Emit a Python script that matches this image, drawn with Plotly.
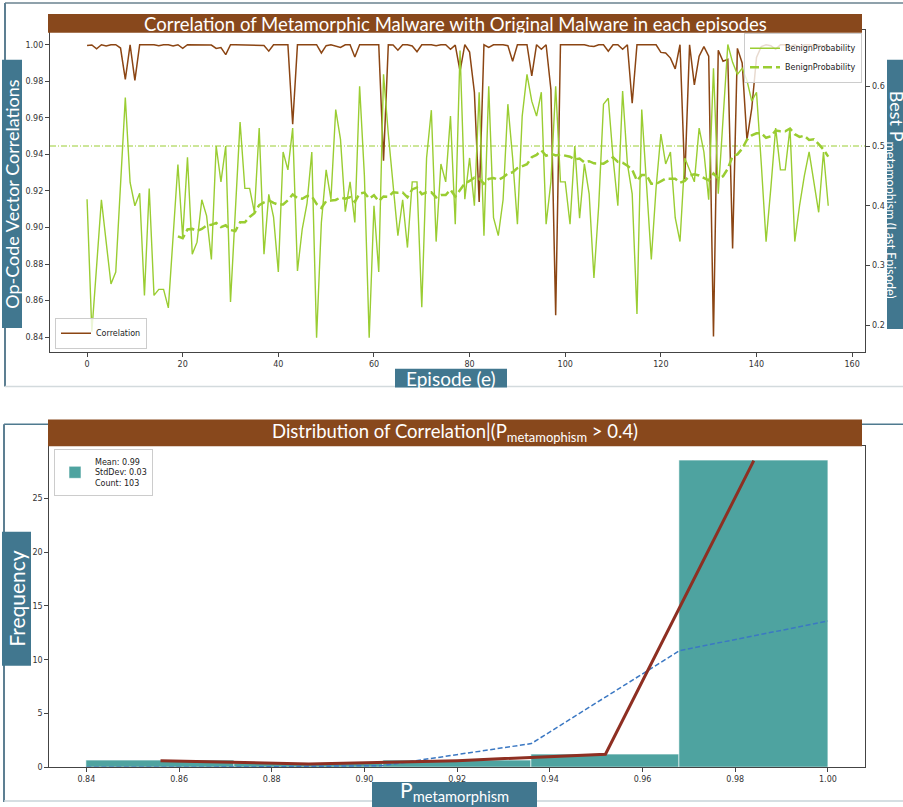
import numpy as np
import pandas as pd
import plotly.graph_objects as go

W, H = 903, 807

# ---------------- data ----------------
EPISODES = list(range(156))

CORRELATION = [
    0.9996, 0.9999, 0.9978, 1.0, 0.9993, 1.0, 1.0, 0.9982, 0.981, 1.0,
    0.9805, 1.0, 1.0, 1.0, 1.0, 0.9995, 1.0, 1.0, 0.9993, 1.0,
    0.998, 1.0, 1.0, 1.0, 1.0, 1.0, 0.9998, 0.998, 0.9985, 0.9946,
    1.0, 1.0, 1.0, 1.0, 1.0, 1.0, 0.9998, 0.9996, 0.9965, 1.0,
    1.0, 1.0, 1.0, 0.9565, 1.0, 1.0, 1.0, 1.0, 1.0, 0.9955,
    0.9995, 1.0, 0.9993, 0.9985, 1.0, 1.0, 0.9933, 1.0, 1.0, 1.0,
    1.0, 1.0, 0.9365, 1.0, 0.9998, 0.997, 1.0, 1.0, 0.9993, 0.9962,
    1.0, 1.0, 1.0, 0.9995, 1.0, 1.0, 0.9975, 0.9998, 0.9855, 1.0,
    0.996, 0.974, 0.914, 1.0, 0.9985, 1.0, 1.0, 1.0, 0.9995, 0.991,
    1.0, 1.0, 1.0, 0.983, 1.0, 0.9975, 1.0, 0.9755, 0.852, 1.0,
    1.0, 1.0, 1.0, 1.0, 1.0, 0.9993, 0.999, 1.0, 1.0, 0.9965,
    1.0, 1.0, 0.9975, 1.0, 0.968, 1.0, 1.0, 1.0, 1.0, 1.0,
    0.9958, 0.9955, 0.9927, 0.9868, 1.0, 0.9265, 1.0, 0.978, 0.9937, 0.999,
    0.9937, 0.8404, 0.997, 0.991, 0.992, 0.8885, 0.998, 0.990, 0.948, 0.965,
    0.993, 0.999, 1.0, 0.9995, 0.9975, 1.0, 1.0, 0.999, 1.0, 0.9985,
    1.0, 1.0, 0.9995, 1.0, 0.999, 1.0,
]

BENIGN_PROB = [
    0.411, 0.189, 0.299, 0.410, 0.339, 0.269, 0.289, 0.433, 0.581, 0.439,
    0.400, 0.421, 0.250, 0.429, 0.250, 0.260, 0.260, 0.229, 0.350, 0.469,
    0.347, 0.481, 0.319, 0.339, 0.410, 0.383, 0.310, 0.500, 0.440, 0.500,
    0.239, 0.389, 0.540, 0.429, 0.429, 0.389, 0.530, 0.319, 0.419, 0.381,
    0.289, 0.490, 0.460, 0.530, 0.291, 0.361, 0.404, 0.490, 0.179, 0.372,
    0.460, 0.411, 0.561, 0.511, 0.390, 0.440, 0.372, 0.600, 0.450, 0.179,
    0.400, 0.289, 0.620, 0.520, 0.440, 0.350, 0.410, 0.330, 0.440, 0.440,
    0.230, 0.480, 0.560, 0.340, 0.470, 0.440, 0.550, 0.369, 0.660, 0.411,
    0.480, 0.400, 0.590, 0.350, 0.600, 0.380, 0.350, 0.410, 0.570, 0.480,
    0.369, 0.550, 0.620, 0.575, 0.550, 0.590, 0.369, 0.440, 0.600, 0.440,
    0.440, 0.369, 0.500, 0.379, 0.470, 0.420, 0.279, 0.400, 0.570, 0.580,
    0.480, 0.400, 0.592, 0.470, 0.420, 0.219, 0.561, 0.440, 0.310, 0.430,
    0.520, 0.470, 0.490, 0.380, 0.340, 0.480, 0.460, 0.440, 0.530, 0.490,
    0.410, 0.630, 0.420, 0.550, 0.670, 0.640, 0.620, 0.630, 0.610, 0.575,
    0.590, 0.470, 0.340, 0.430, 0.530, 0.460, 0.460, 0.530, 0.340, 0.400,
    0.450, 0.490, 0.440, 0.389, 0.490, 0.400,
]

ROLLING_WINDOW = 20
THRESHOLD = 0.5

TOP_X_TICKS = [0, 20, 40, 60, 80, 100, 120, 140, 160]
TOP_Y_TICKS = [0.84, 0.86, 0.88, 0.90, 0.92, 0.94, 0.96, 0.98, 1.00]
TOP_Y2_TICKS = [0.2, 0.3, 0.4, 0.5, 0.6]

BIN_EDGES = [0.84, 0.872, 0.904, 0.936, 0.968, 1.0]
BIN_COUNTS = [2, 1, 2, 4, 94]
NORMAL_FIT = [0.0, 0.01, 0.15, 2.2, 10.85, 13.6]
STATS_LABEL = "Mean: 0.99<br>StdDev: 0.03<br>Count: 103"

BOT_X_TICKS = [0.84, 0.86, 0.88, 0.90, 0.92, 0.94, 0.96, 0.98, 1.00]
BOT_Y_TICKS = [0, 5, 10, 15, 20, 25]

# ---------------- styles ----------------
BROWN = "#8B4513"
BAR_BROWN = "#88481C"
GREEN = "#9ACD32"
TEAL = "#4EA3A0"
RED = "#8E2F22"
BLUE = "#3B78C3"
BOXBLUE = "#41778F"
AXC = "#444444"
TICKFONT = dict(family="DejaVu Sans", size=8, color="#333333")
TITLEFONT = "Lato"


def px(x):
    return x / W


def py(y):
    return 1 - y / H


rolling = pd.Series(BENIGN_PROB).rolling(ROLLING_WINDOW).mean()
rolling = [None if np.isnan(v) else v for v in rolling]

edges = np.array(BIN_EDGES)
counts = np.array(BIN_COUNTS, dtype=float)
widths = np.diff(edges)
centers = (edges[:-1] + edges[1:]) / 2
density = counts / (counts.sum() * widths)

fig = go.Figure()

# top chart
fig.add_trace(go.Scatter(x=EPISODES, y=CORRELATION, mode="lines",
                         line=dict(color=BROWN, width=1.5), name="Correlation",
                         xaxis="x", yaxis="y", legend="legend2"))
fig.add_trace(go.Scatter(x=EPISODES, y=BENIGN_PROB, mode="lines",
                         line=dict(color=GREEN, width=1.4), name="BenignProbability",
                         xaxis="x", yaxis="y2", legend="legend"))
fig.add_trace(go.Scatter(x=EPISODES, y=rolling, mode="lines",
                         line=dict(color=GREEN, width=2.5, dash="9px,4px"),
                         name="BenignProbability", xaxis="x", yaxis="y2",
                         legend="legend"))

# bottom chart
fig.add_trace(go.Bar(x=centers, y=density, width=widths,
                     marker=dict(color=TEAL, line=dict(color="rgba(255,255,255,0.7)", width=0.8)),
                     name=STATS_LABEL, xaxis="x2", yaxis="y3", legend="legend3"))
fig.add_trace(go.Scatter(x=BIN_EDGES, y=NORMAL_FIT, mode="lines",
                         line=dict(color=BLUE, width=1.5, dash="5px,2.5px"),
                         showlegend=False, xaxis="x2", yaxis="y3"))
fig.add_trace(go.Scatter(x=centers, y=density, mode="lines",
                         line=dict(color=RED, width=3),
                         showlegend=False, xaxis="x2", yaxis="y3"))

axis_common = dict(showline=True, linecolor=AXC, linewidth=1.2, mirror=True,
                   ticks="outside", ticklen=4, tickcolor=AXC, tickwidth=1,
                   showgrid=False, zeroline=False, tickfont=TICKFONT)

legend_common = dict(bgcolor="rgba(255,255,255,0.8)", bordercolor="#cccccc",
                     borderwidth=1, font=dict(family="DejaVu Sans", size=8, color="#222222"),
                     itemwidth=30, tracegroupgap=0, orientation="v")

fig.update_layout(
    width=W, height=H, margin=dict(l=0, r=0, t=0, b=0),
    paper_bgcolor="white", plot_bgcolor="white", bargap=0,
    xaxis=dict(domain=[px(50), px(865.3)], anchor="y", range=[-7.75, 162.75],
               tickvals=TOP_X_TICKS, **axis_common),
    yaxis=dict(domain=[py(354), py(30)], anchor="x", range=[0.832, 1.00816],
               tickvals=TOP_Y_TICKS, tickformat=".2f", **axis_common),
    yaxis2=dict(overlaying="y", side="right", anchor="x", range=[0.1555, 0.6945],
                tickvals=TOP_Y2_TICKS, tickformat=".1f", showline=True, linecolor=AXC,
                linewidth=1.2, ticks="outside", ticklen=4, tickcolor=AXC,
                showgrid=False, zeroline=False, tickfont=TICKFONT),
    xaxis2=dict(domain=[px(49.3), px(865)], anchor="y3", range=[0.832, 1.008],
                tickvals=BOT_X_TICKS, tickformat=".2f", **axis_common),
    yaxis3=dict(domain=[py(772), py(448.3)], anchor="x2", range=[0, 29.93],
                tickvals=BOT_Y_TICKS, **axis_common),
    legend=dict(x=px(862), xanchor="right", y=py(33), yanchor="top", **legend_common),
    legend2=dict(x=px(55), xanchor="left", y=py(351), yanchor="bottom", **legend_common),
    legend3=dict(x=px(54), xanchor="left", y=py(452), yanchor="top", **legend_common),
)

shapes = []
# threshold line on the right axis
shapes.append(dict(type="line", xref="x domain", x0=0, x1=1, yref="y2",
                   y0=THRESHOLD, y1=THRESHOLD, layer="below",
                   line=dict(color=GREEN, width=1, dash="6px,2px,1px,2px")))


def rect(x0, y0, x1, y1, color):
    return dict(type="rect", xref="paper", yref="paper", x0=px(x0), x1=px(x1),
                y0=py(y1), y1=py(y0), fillcolor=color, line=dict(width=0), layer="above")


def seg(x0, y0, x1, y1, color, width):
    return dict(type="line", xref="paper", yref="paper", x0=px(x0), x1=px(x1),
                y0=py(y0), y1=py(y1), line=dict(color=color, width=width), layer="above")


# frames
shapes += [
    seg(5, 3, 903, 3, "#8fa1ab", 2),
    seg(5, 3, 5, 389, "#5d7f92", 2),
    seg(5, 389, 903, 389, "#d3dadd", 1.5),
    seg(4, 427, 48, 427, "#4f7a8f", 1.5),
    seg(862, 427, 903, 427, "#4f7a8f", 1.5),
    seg(4, 427, 4, 807, "#5d7f92", 2),
    seg(4, 806, 903, 806, "#c9d3d8", 1.5),
]
# title bars and axis-title boxes
shapes += [
    rect(48, 14, 862, 33, BAR_BROWN),
    rect(48, 422, 862, 449, BAR_BROWN),
    rect(2, 60, 22, 330, BOXBLUE),
    rect(395, 371, 507, 390, BOXBLUE),
    rect(887, 60, 912, 331, BOXBLUE),
    rect(2, 535, 31, 670, BOXBLUE),
    rect(372, 787, 537, 812, BOXBLUE),
]
fig.update_layout(shapes=shapes)


def label(text, cx, cy, size, angle=0):
    return dict(text=text, xref="paper", yref="paper", x=px(cx), y=py(cy),
                xanchor="center", yanchor="middle", showarrow=False, textangle=angle,
                font=dict(family=TITLEFONT, size=size, color="white"))


fig.update_layout(annotations=[
    label("Correlation of Metamorphic Malware with Original Malware in each episodes", 455, 24, 18.5),
    label("Distribution of Correlation|(P<sub>metamophism</sub> > 0.4)", 455, 435, 18.5),
    label("Op-Code Vector Correlations", 12, 195, 18, -90),
    label("Episode (e)", 451, 381, 19),
    label("Best P<sub>metamophism (Last Episode)</sub>", 895, 196, 18, 90),
    label("Frequency", 16.5, 602, 21, -90),
    label("P<sub>metamorphism</sub>", 454, 796, 21),
])

fig.write_html(
    "out.html",
    config={"displayModeBar": False},
    post_script="document.body.style.margin='0';document.body.style.overflow='hidden';",
)
